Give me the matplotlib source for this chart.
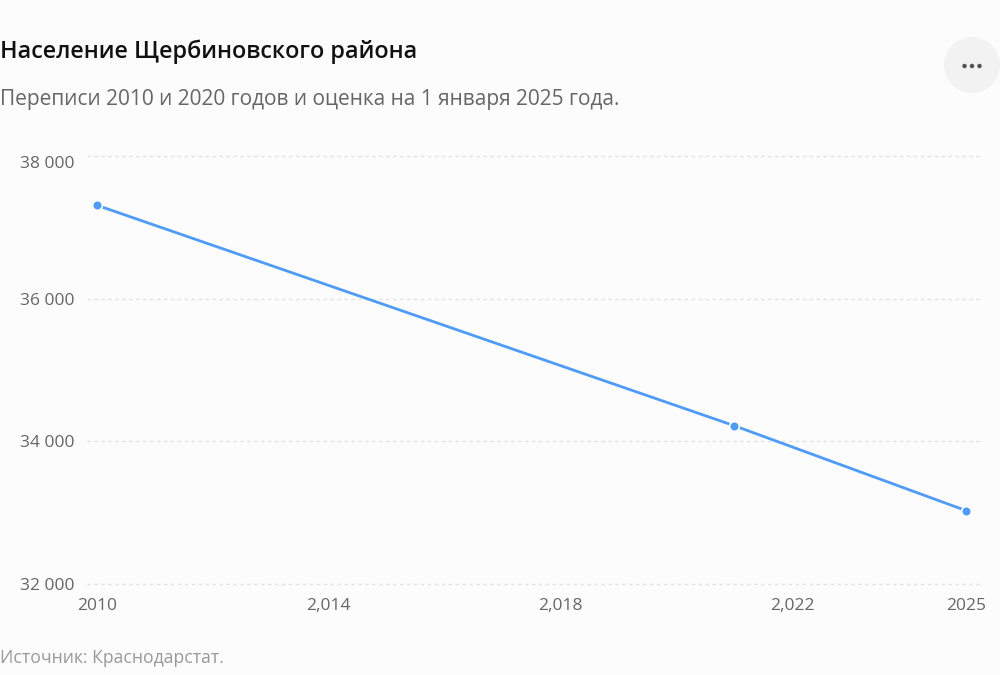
import matplotlib.pyplot as plt
from matplotlib.patches import Ellipse

# Данные: население Щербиновского района
years = [2010, 2021, 2025]
population = [37310, 34220, 33030]

x_ticks = [2010, 2014, 2018, 2022, 2025]
x_tick_labels = ['2010', '2,014', '2,018', '2,022', '2025']
y_ticks = [32000, 34000, 36000, 38000]
y_tick_labels = ['32 000', '34 000', '36 000', '38 000']

plt.rcParams['font.family'] = ['Open Sans', 'DejaVu Sans']

bg = '#fcfcfc'
W, H = 1000, 675
fig = plt.figure(figsize=(10, 6.75), dpi=100, facecolor=bg)
ax = fig.add_axes([0.087, 1 - 584 / H, 0.982 - 0.087, (584 - 156) / H])
ax.set_facecolor(bg)

ax.plot(years, population, color='#4f9bf5', linewidth=2, marker='o', markersize=7,
        markerfacecolor='#4f9bf5', markeredgecolor='white', markeredgewidth=1.2,
        clip_on=False, zorder=3)

ax.set_xlim(2009.83, 2025.28)
ax.set_ylim(32000, 38000)
ax.set_xticks(x_ticks)
ax.set_xticklabels(x_tick_labels)
ax.set_yticks(y_ticks)
ax.set_yticklabels(y_tick_labels)

ax.grid(axis='y', color='#e3e3e3', linestyle=(0, (2.5, 2.5)), linewidth=1)
for gl in ax.get_ygridlines():
    gl.set_clip_on(False)
ax.set_axisbelow(True)
for s in ax.spines.values():
    s.set_visible(False)
ax.tick_params(axis='both', length=0, colors='#666666', labelsize=12.5)
ax.tick_params(axis='x', pad=10)
ax.tick_params(axis='y', pad=9)
ax.get_yticklabels()[-1].set_verticalalignment('top')

# Заголовки
fig.text(0.0, 1 - 52 / H, 'Население Щербиновского района', fontsize=16.8,
         fontweight='semibold', color='#111111', va='center', ha='left')
fig.text(0.0, 1 - 100 / H, 'Переписи 2010 и 2020 годов и оценка на 1 января 2025 года.',
         fontsize=15, color='#666666', va='center', ha='left')
fig.text(0.0, 1 - 658 / H, 'Источник: Краснодарстат.', fontsize=12.7,
         color='#999999', va='center', ha='left')

# Кнопка меню
btn = Ellipse((972 / W, 1 - 65 / H), 56 / W, 56 / H, transform=fig.transFigure,
              facecolor='#f2f2f2', edgecolor='none')
fig.patches.append(btn)
for dx in (-7.5, 0, 7.5):
    dot = Ellipse(((972 + dx) / W, 1 - 66 / H), 4.5 / W, 4.5 / H,
                  transform=fig.transFigure, facecolor='#555555', edgecolor='none')
    fig.patches.append(dot)

fig.savefig('out.png', dpi=100, facecolor=bg)
